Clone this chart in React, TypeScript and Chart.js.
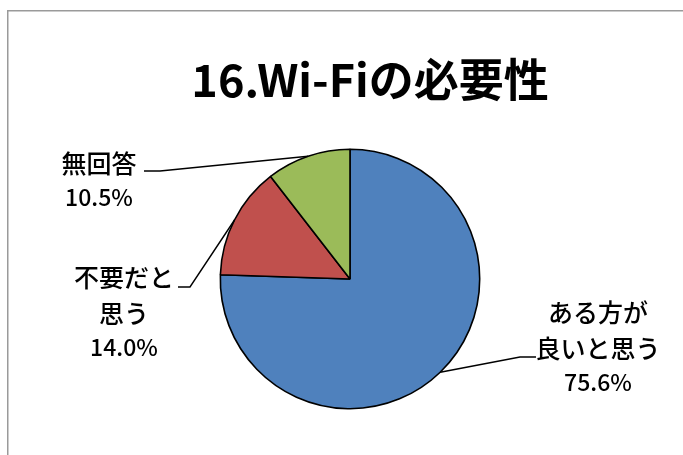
import React, { useEffect, useRef } from "react";
import { Chart, registerables } from "chart.js";

Chart.register(...registerables);

const chartTitle = "16.Wi-Fiの必要性";
const categories: string[][] = [["ある方が", "良いと思う"], ["不要だと", "思う"], ["無回答"]];
const values: number[] = [75.6, 14.0, 10.5];
const colors: string[] = ["#4F81BD", "#C0504D", "#9BBB59"];

// label layout: text centre x, first-line centre y, elbow point of leader line, end of short horizontal
const labelLayout = [
  { x: 598, y: 312, elbowX: 520, elbowY: 357, endX: 536 },
  { x: 124, y: 277, elbowX: 190, elbowY: 287, endX: 178 },
  { x: 99, y: 163, elbowX: 160, elbowY: 171, endX: 144 },
];

const CJK = '"Noto Sans CJK JP", "Noto Sans", sans-serif';

const decorPlugin = {
  id: "decor",
  beforeDraw(chart: any) {
    const ctx = chart.ctx;
    ctx.save();
    ctx.fillStyle = "#ffffff";
    ctx.fillRect(0, 0, chart.width, chart.height);
    ctx.strokeStyle = "#9a9a9a";
    ctx.lineWidth = 1.5;
    ctx.strokeRect(7.75, 10.75, 800, 600);
    ctx.restore();
  },
  afterDraw(chart: any) {
    const ctx = chart.ctx;
    ctx.save();
    ctx.fillStyle = "#000000";
    ctx.textAlign = "center";
    ctx.textBaseline = "middle";
    ctx.font = `bold 45px ${CJK}`;
    ctx.fillText(chartTitle, 370, 80);

    const meta = chart.getDatasetMeta(0);
    meta.data.forEach((arc: any, i: number) => {
      const p = arc.getProps(["x", "y", "startAngle", "endAngle", "outerRadius"], true);
      const mid = (p.startAngle + p.endAngle) / 2;
      const ex = p.x + Math.cos(mid) * p.outerRadius;
      const ey = p.y + Math.sin(mid) * p.outerRadius;
      const L = labelLayout[i];
      ctx.strokeStyle = "#000000";
      ctx.lineWidth = 1.4;
      ctx.beginPath();
      ctx.moveTo(ex, ey);
      ctx.lineTo(L.elbowX, L.elbowY);
      ctx.lineTo(L.endX, L.elbowY);
      ctx.stroke();

      ctx.fillStyle = "#000000";
      const lines = categories[i];
      let y = L.y;
      ctx.font = `500 25px ${CJK}`;
      lines.forEach((ln) => {
        ctx.fillText(ln, L.x, y);
        y += 36;
      });
      y -= 2;
      ctx.font = `500 23px ${CJK}`;
      ctx.fillText(values[i].toFixed(1) + "%", L.x, y);
    });
    ctx.restore();
  },
};

export default function App() {
  const ref = useRef<HTMLCanvasElement>(null);
  useEffect(() => {
    if (!ref.current) return;
    const chart = new Chart(ref.current, {
      type: "pie",
      data: {
        labels: categories.map((c) => c.join("")),
        datasets: [
          {
            data: values,
            backgroundColor: colors,
            borderColor: "#000000",
            borderWidth: 1.6,
          },
        ],
      },
      options: {
        animation: false,
        responsive: false,
        devicePixelRatio: 1,
        layout: { padding: { left: 219.5, right: 202.5, top: 148.5, bottom: 45.5 } },
        plugins: {
          legend: { display: false },
          title: { display: false },
          tooltip: { enabled: false },
        },
      },
      plugins: [decorPlugin],
    });
    return () => chart.destroy();
  }, []);
  return (
    <canvas
      ref={ref}
      width={683}
      height={455}
      style={{ position: "fixed", left: 0, top: 0, width: 683, height: 455 }}
    />
  );
}
